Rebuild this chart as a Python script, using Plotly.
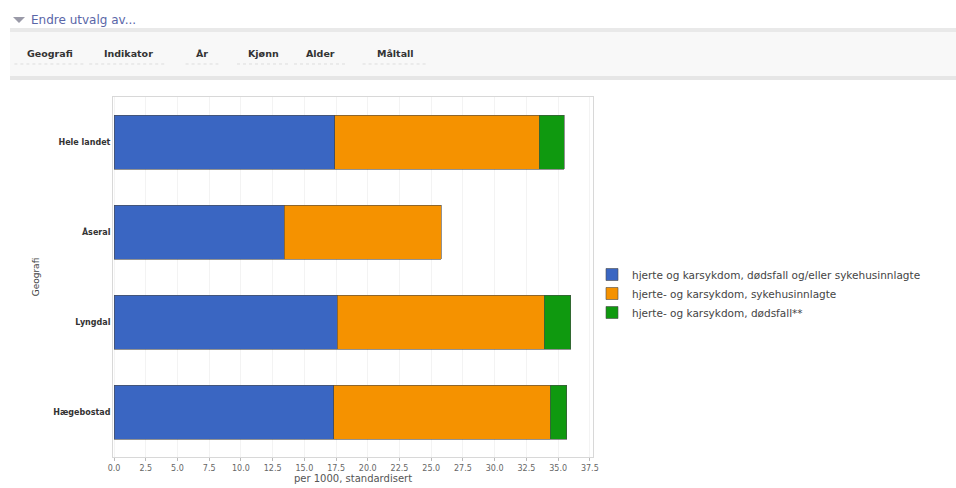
import plotly.graph_objects as go

# ---- data ----
categories = ["Hele landet", "Åseral", "Lyngdal", "Hægebostad"]
series_names = [
    "hjerte og karsykdom, dødsfall og/eller sykehusinnlagte",
    "hjerte- og karsykdom, sykehusinnlagte",
    "hjerte- og karsykdom, dødsfall**",
]
blue_values = [17.4, 13.4, 17.6, 17.3]
orange_values = [16.1, 12.4, 16.3, 17.1]
green_values = [2.0, None, 2.1, 1.3]
tick_values = [0, 2.5, 5, 7.5, 10, 12.5, 15, 17.5, 20, 22.5, 25, 27.5, 30, 32.5, 35, 37.5]
tick_labels = ["0.0", "2.5", "5.0", "7.5", "10.0", "12.5", "15.0", "17.5", "20.0",
               "22.5", "25.0", "27.5", "30.0", "32.5", "35.0", "37.5"]
toolbar_buttons = ["Geografi", "Indikator", "År", "Kjønn", "Alder", "Måltall"]
toolbar_x = [50, 128, 202, 263, 320, 395]

colors = ["#3a66c2", "#f59200", "#0f990f"]

W, H = 956, 488
L, R, T, B = 113, 593, 97, 457


def px(x):
    return (x - L) / (R - L)


def py(y):
    return (B - y) / (B - T)


fig = go.Figure()
for name, vals, col in zip(series_names, [blue_values, orange_values, green_values], colors):
    fig.add_trace(go.Bar(
        y=categories, x=vals, name=name, orientation="h",
        marker=dict(color=col, line=dict(color="#4a4a4a", width=0.6)),
        width=0.6,
    ))

font = "DejaVu Sans, Verdana, sans-serif"
fig.update_layout(
    width=W, height=H,
    barmode="stack",
    paper_bgcolor="white", plot_bgcolor="white",
    margin=dict(l=L, r=W - R, t=T, b=H - B, autoexpand=False),
    font=dict(family=font, size=8, color="#555555"),
    showlegend=True,
    legend=dict(
        x=px(592), y=py(260), xanchor="left", yanchor="top",
        font=dict(size=10.5, color="#444444", family=font),
        traceorder="normal", itemwidth=30, tracegroupgap=0,
        bgcolor="rgba(0,0,0,0)",
    ),
    xaxis=dict(
        range=[-0.08, 37.75], tickvals=tick_values, ticktext=tick_labels,
        showgrid=True, gridcolor="#f3f3f3", gridwidth=1,
        zeroline=False, showline=True, linecolor="#d8d8d8", mirror=True,
        ticks="outside", ticklen=3, tickcolor="#bbbbbb",
        tickfont=dict(size=8, color="#666666"),
        title=dict(text="per 1000, standardisert", font=dict(size=10, color="#555555"), standoff=2),
    ),
    yaxis=dict(
        categoryorder="array", categoryarray=categories, autorange="reversed",
        showgrid=False, showline=True, linecolor="#d8d8d8", mirror=True,
        ticks="", tickfont=dict(size=8, color="#333333", weight="bold"),
        title=dict(text="Geografi", font=dict(size=9, color="#444444"), standoff=12),
    ),
)

shapes = []
# toolbar background
shapes.append(dict(type="rect", xref="paper", yref="paper", x0=px(10), x1=px(W), y0=py(78), y1=py(28),
                   fillcolor="#f8f8f8", line=dict(width=0), layer="below"))
shapes.append(dict(type="rect", xref="paper", yref="paper", x0=px(10), x1=px(W), y0=py(32), y1=py(28),
                   fillcolor="#e9e9e9", line=dict(width=0), layer="below"))
shapes.append(dict(type="rect", xref="paper", yref="paper", x0=px(10), x1=px(W), y0=py(80), y1=py(76),
                   fillcolor="#e6e6e6", line=dict(width=0), layer="below"))
# dotted separators under buttons
for bx, lab in zip(toolbar_x, toolbar_buttons):
    half = 4 + 3.2 * len(lab)
    shapes.append(dict(type="line", xref="paper", yref="paper", x0=px(bx - half - 6), x1=px(bx + half + 6),
                       y0=py(64), y1=py(64), line=dict(color="#dddddd", width=1, dash="dot")))
# triangle
shapes.append(dict(type="path", xref="paper", yref="paper",
                   path=f"M {px(13)} {py(17)} L {px(25)} {py(17)} L {px(19)} {py(23)} Z",
                   fillcolor="#9a9aa8", line=dict(width=0)))

annotations = [
    dict(text="Endre utvalg av...", x=px(29), y=py(20), xref="paper", yref="paper",
         xanchor="left", yanchor="middle", showarrow=False,
         font=dict(size=12, color="#5a66a8", family=font)),
]
for bx, lab in zip(toolbar_x, toolbar_buttons):
    annotations.append(dict(text=f"<b>{lab}</b>", x=px(bx), y=py(53), xref="paper", yref="paper",
                            xanchor="center", yanchor="middle", showarrow=False,
                            font=dict(size=9.5, color="#333333", family=font)))

fig.update_layout(shapes=shapes, annotations=annotations)

fig.write_html("out.html", config={"displayModeBar": False},
               post_script="document.body.style.margin='0px';")
